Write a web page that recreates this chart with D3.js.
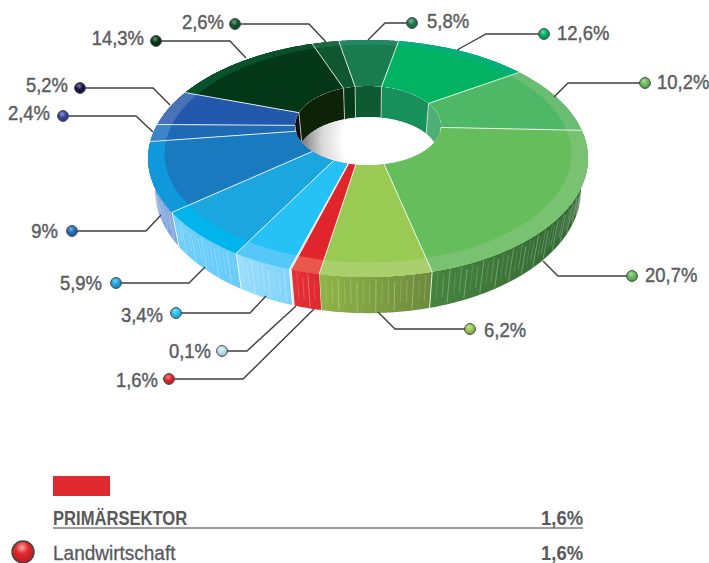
<!DOCTYPE html>
<html><head><meta charset="utf-8">
<script src="https://cdn.jsdelivr.net/npm/d3@7"></script>
<style>html,body{margin:0;padding:0;background:#fff}svg{display:block}
text{font-family:"Liberation Sans",Arial,sans-serif}</style></head>
<body><svg id="c" width="709" height="563"></svg>
<script>
// ---- data (order runs counter-clockwise on screen, starting from the bottom slice)
const values = [6.2,20.7,10.2,12.6,5.8,2.6,14.3,5.2,2.4,9,5.9,3.4,0.1,1.6];
const labels = ["6,2%","20,7%","10,2%","12,6%","5,8%","2,6%","14,3%","5,2%","2,4%","9%","5,9%","3,4%","0,1%","1,6%"];
const topColors  = ["#99CA53","#66BD5C","#4FB866","#00B262","#197C4E","#0F5730","#033717","#2259AC","#1F6AB5","#1A7ABF","#1BA6E0","#27C2F5","#BBE3F5","#E0262C"];
const rimColors  = ["#A9D06C","#79C271","#69BE74","#00B078","#248763","#1A6A42","#07522B","#4A72B8","#3E84C8","#0F99DC","#00B4EC","#55C8F8","#D3EEFA","#E8564C"];
const wallLeft   = ["#90B448","#47853F","#3E7A3A","#008050","#14603C","#0B4024","#03280F","#6F98D6","#6F98D6","#6F98D6","#6CCFFB","#9ADEFC","#DDF3FD","#E53138"];
const wallRight  = ["#6C8A3B","#2F6530","#2F6530","#008050","#14603C","#0B4024","#03280F","#85A8DF","#85A8DF","#85A8DF","#68CBFA","#7FD2FB","#CFEFFC","#DD2A30"];
const innerWall  = ["#333","#4FAE76","#4FAE76","#17905B","#0E5A33","#053A18","#0D2206","#111111","#111111","#111111","#111","#111","#111","#111"];
const ballColors = ["#99CA53","#66BD5C","#66BD5C","#00B262","#197C4E","#0F5730","#033717","#16164A","#33479F","#1F6FBB","#1BA6E0","#27C2F5","#BBE3F5","#E0262C"];
// leader layout: dot x/y, elbow x, anchor on the pie; label gap and vertical nudge
const leaderDot   = [[470,329],[632,276],[645,83],[544,34],[412,23],[235,24],[156,41],[80,88],[63,116],[72,231],[116,283],[176,313],[222,351],[169,379]];
const leaderElbow = [395,558,568,486,385,309,230,153,136,146,189,250,247,243];
const leaderStart = [[378,312],[543,261],[554,97],[457,50],[368,40],[326,42],[246,58],[170,105],[153,132],[161,215],[205,267],[266,296],[296,306],[314,309]];
const labelGap = [14,13,12,13,15,11,12,12,13,14,14,13,11,11];
const labelDy  = [1,-1,-1,-1,-2,-2,-3,-3,-3,0,0,2,0,1];
const legendHead = "PRIMÄRSEKTOR", legendItem = "Landwirtschaft", legendValue = "1,6%";

// ---- perspective geometry
const k=0.2827, m=0.03, D=31.6, innerR=0.35, rimR=0.93;
const xS=d3.scaleLinear().domain([-1,1]).range([368-211,368+211]);
const yS=d3.scaleLinear().domain([-1,1]).range([125-109,125+109]);
const yH=d3.scaleLinear().domain([0,1]).range([0,D/109]);
const xI=d3.scaleLinear().domain([-1,1]).range([368-73,368+73]);
const yI=d3.scaleLinear().domain([-1,1]).range([125.5-39.5,125.5+39.5]);
function proj(r,a,h=0){
  if(r===innerR){ // inner opening
    const f=1-.04*h;
    return [xI(Math.sin(a)*f),yI(Math.cos(a)*f)+29.5*h];
  }
  const u=r*Math.sin(a),v=r*Math.cos(a),w=1-k*v+m*h;
  return [xS(u/w),yS((v+yH(h))/w)];
}
const line=d3.line();
function arcPts(r,a0,a1,h=0){const n=Math.max(2,Math.ceil(Math.abs(a1-a0)/0.01));
  return d3.range(n+1).map(i=>proj(r,a0+(a1-a0)*i/n,h));}
function band(r0,r1,a0,a1,h0=0,h1=0){return line(arcPts(r1,a0,a1,h1).concat(arcPts(r0,a1,a0,h0)))+"Z";}

const deg=Math.PI/180;
const pie=d3.pie().sort(null).startAngle(-9.6*deg).endAngle(350.4*deg);
const slices=pie(values);

const svg=d3.select("#c"), defs=svg.append("defs");
slices.forEach((d,i)=>{
  const g=defs.append("linearGradient").attr("id","w"+i).attr("x1",0).attr("x2",1).attr("y1",0).attr("y2",0);
  g.append("stop").attr("offset",0).attr("stop-color",wallLeft[i]);
  g.append("stop").attr("offset",1).attr("stop-color",wallRight[i]);
  const b=defs.append("radialGradient").attr("id","b"+i).attr("cx",.42).attr("cy",.32).attr("r",.72);
  b.append("stop").attr("offset",0).attr("stop-color",d3.interpolateRgb(ballColors[i],"#fff")(.45));
  b.append("stop").attr("offset",.45).attr("stop-color",ballColors[i]);
  b.append("stop").attr("offset",1).attr("stop-color",d3.color(ballColors[i]).darker(.7));
});
const hg=defs.append("radialGradient").attr("id","hole").attr("gradientUnits","userSpaceOnUse")
  .attr("cx",392).attr("cy",140).attr("r",94);
hg.append("stop").attr("offset",.52).attr("stop-color","#fff");
hg.append("stop").attr("offset",.75).attr("stop-color","#d8d8d8");
hg.append("stop").attr("offset",1).attr("stop-color","#6a6a6a");
const rb=defs.append("radialGradient").attr("id","lb").attr("cx",.45).attr("cy",.3).attr("r",.75);
rb.append("stop").attr("offset",0).attr("stop-color","#f7a8a0");
rb.append("stop").attr("offset",.4).attr("stop-color","#E0262C");
rb.append("stop").attr("offset",1).attr("stop-color","#B01C20");
defs.append("clipPath").attr("id","ih").append("path").attr("d",line(arcPts(innerR,0,2*Math.PI))+"Z");

// outer walls
const walls=svg.append("g");
slices.forEach((d,i)=>{
  walls.append("path").attr("d",band(1,1,d.startAngle,d.endAngle,1,0)).attr("fill",`url(#w${i})`);
  const span=d.endAngle-d.startAngle, n=Math.max(1,Math.round(span/0.022));
  d3.range(1,n).forEach(j=>{
    const a=d.startAngle+span*j/n;
    if(Math.cos(a)<-0.05) return;
    const f=j%3===0?.42:j%3===1?.2:.3;
    walls.append("path").attr("d",line([proj(1,a,j%2?0.05:0.15),proj(1,a,j%3===0?0.95:.75)]))
      .attr("stroke","#fff").attr("stroke-opacity",f).attr("stroke-width",.7).attr("fill","none");
  });
  walls.append("path").attr("d",line([proj(1,d.startAngle,0),proj(1,d.startAngle,1)]))
    .attr("stroke","#fff").attr("stroke-width",.9).attr("stroke-opacity",Math.cos(d.startAngle)>-.05?.9:0);
});
// top faces
const tops=svg.append("g");
slices.forEach((d,i)=>{
  tops.append("path").attr("d",band(innerR,1,d.startAngle,d.endAngle)).attr("fill",topColors[i]);
  tops.append("path").attr("d",band(rimR,1,d.startAngle,d.endAngle)).attr("fill",rimColors[i]);
});
slices.forEach((d,i)=>{
  tops.append("path").attr("d",line([proj(innerR,d.startAngle),proj(1,d.startAngle)]))
    .attr("stroke","#fff").attr("stroke-width",.9).attr("stroke-opacity",.92).attr("fill","none");
});
// inner well
const well=svg.append("g").attr("clip-path","url(#ih)");
slices.forEach((d,i)=>{
  well.append("path").attr("d",band(innerR,innerR,d.startAngle,d.endAngle,0,1)).attr("fill",innerWall[i]);
  well.append("path").attr("d",line([proj(innerR,d.startAngle,0),proj(innerR,d.startAngle,1)]))
    .attr("stroke","#fff").attr("stroke-width",.9).attr("stroke-opacity",.7);
});
well.append("path").attr("d",line(arcPts(innerR,0,2*Math.PI,1))+"Z").attr("fill","url(#hole)");

// leaders, dots, labels
const fg=svg.append("g");
slices.forEach((d,i)=>{
  const [dx,dy]=leaderDot[i],s=leaderStart[i];
  fg.append("path").attr("d",line([[dx,dy],[leaderElbow[i],dy],s])).attr("fill","none")
    .attr("stroke","#3f3f41").attr("stroke-width",1.4);
  fg.append("circle").attr("cx",dx).attr("cy",dy).attr("r",5.4).attr("fill",`url(#b${i})`)
    .attr("stroke","#444").attr("stroke-width",1);
  const right=leaderElbow[i]>dx;
  fg.append("text").attr("y",dy+labelDy[i]+7).attr("font-size",20.5).attr("fill","#5c5d5f")
    .attr("stroke","#5c5d5f").attr("stroke-width",.45)
    .attr("text-anchor",right?"end":"start")
    .attr("transform",`translate(${right?dx-labelGap[i]:dx+labelGap[i]},0) scale(.9,1)`).text(labels[i]);
});

// legend
const lg=svg.append("g");
lg.append("rect").attr("x",53).attr("y",476).attr("width",57).attr("height",20).attr("fill","#DF2A2F");
lg.append("line").attr("x1",53).attr("x2",583).attr("y1",528).attr("y2",528).attr("stroke","#3f3f41").attr("stroke-width",1.2);
const tx=(x,y,s,anchor,w,sx)=>lg.append("text").attr("y",y).attr("font-size",20).attr("font-weight",w).attr("fill","#58595B")
  .attr("text-anchor",anchor).attr("transform",`translate(${x},0) scale(${sx},1)`).text(s);
tx(53,525,legendHead,"start","bold",.83);
tx(583,525,legendValue,"end","bold",.92);
tx(53,560,legendItem,"start","normal",.95).attr("stroke","#58595B").attr("stroke-width",.3);
tx(583,560,legendValue,"end","bold",.92);
lg.append("circle").attr("cx",23).attr("cy",552).attr("r",11).attr("fill","url(#lb)").attr("stroke","#444").attr("stroke-width",1.4);
</script></body></html>
